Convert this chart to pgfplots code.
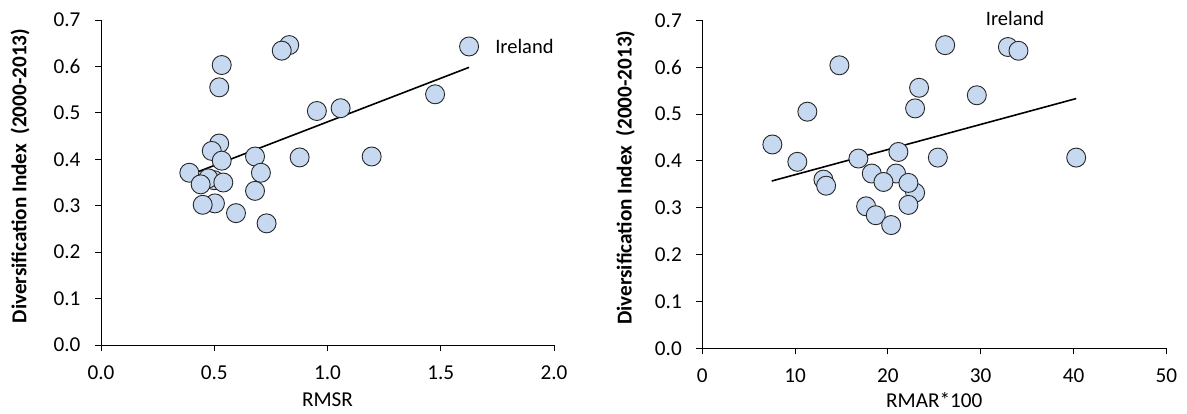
\documentclass[border=0pt]{standalone}
\usepackage{fontspec}
\setmainfont{Carlito}
\usepackage{pgfplots}
\pgfplotsset{compat=1.18}
\definecolor{cfill}{HTML}{C6D9F0}
\newcommand{\myfont}{\fontsize{21.2bp}{25bp}\selectfont}
\newcommand{\irfont}{\fontsize{20.5bp}{24bp}\selectfont}
\pgfplotsset{
  excel/.style={
    scale only axis,
    anchor=south west,
    clip=false,
    axis x line*=bottom,
    axis y line*=left,
    axis line style={black, line width=1bp},
    tick align=outside,
    major tick length=6bp,
    tick style={black, line width=1bp},
    ymin=0, ymax=0.7, ytick distance=0.1,
    tick label style={font=\myfont},
    xticklabel style={/tikz/yshift=-11bp},
    yticklabel style={/tikz/xshift=-11bp, /pgf/number format/.cd, fixed, fixed zerofill, precision=1},
    label style={font=\myfont},
    /pgf/number format/assume math mode=true,
    scatter/.style={only marks, mark=*, mark size=9.5bp,
      mark options={fill=cfill, draw=black!85, line width=0.9bp}},
  }
}
\begin{document}
\begin{tikzpicture}[x=1bp,y=1bp]
\path[use as bounding box, fill=white] (0,0) rectangle (1187,413);
% Left panel
\begin{axis}[excel,
  at={(101bp,68bp)}, width=453bp, height=325bp,
  xmin=0, xmax=2, xtick distance=0.5,
  xticklabel style={/pgf/number format/.cd, fixed, fixed zerofill, precision=1},
  xlabel={RMSR},
  ylabel={\textbf{Diversification Index~~(2000-2013)}},
  xlabel style={at={(axis description cs:0.5,0)}, anchor=center, yshift=-55bp},
  ylabel style={at={(axis description cs:0,0.52)}, anchor=center, yshift=81bp},
]
\addplot[scatter] table {
x y
0.831 0.646
0.798 0.634
0.533 0.603
0.522 0.555
0.953 0.504
1.058 0.510
1.475 0.540
1.625 0.643
0.522 0.434
0.489 0.418
0.533 0.397
0.680 0.406
0.877 0.404
1.195 0.406
0.390 0.371
0.500 0.355
0.474 0.359
0.440 0.346
0.540 0.350
0.706 0.371
0.680 0.332
0.503 0.305
0.449 0.302
0.596 0.284
0.731 0.262
};
\addplot[black, line width=1.6bp] coordinates {(0.390,0.366) (1.625,0.598)};
\node[anchor=west, font=\irfont, inner sep=0pt] at (axis cs:1.625,0.643) [xshift=26bp] {Ireland};
\end{axis}
% Right panel
\begin{axis}[excel,
  at={(702.3bp,64.7bp)}, width=464bp, height=328bp,
  xmin=0, xmax=50, xtick distance=10,
  xlabel={RMAR*100},
  ylabel={\textbf{Diversification Index~~(2000-2013)}},
  xlabel style={at={(axis description cs:0.5,0)}, anchor=center, yshift=-52bp},
  ylabel style={at={(axis description cs:0,0.52)}, anchor=center, yshift=77bp},
]
\addplot[scatter] table {
x y
26.17 0.647
32.93 0.643
34.07 0.635
14.77 0.604
23.36 0.556
22.93 0.512
29.58 0.540
11.32 0.505
7.55 0.435
10.24 0.398
16.82 0.405
21.13 0.419
25.38 0.407
13.05 0.360
13.34 0.347
18.26 0.373
20.88 0.373
19.52 0.355
22.93 0.332
22.21 0.353
17.65 0.303
18.69 0.284
20.35 0.263
22.21 0.306
40.29 0.407
};
\addplot[black, line width=1.6bp] coordinates {(7.48,0.357) (40.29,0.533)};
\node[font=\irfont, inner sep=0pt] at (axis cs:33.7,0.704) {Ireland};
\end{axis}
\end{tikzpicture}
\end{document}
